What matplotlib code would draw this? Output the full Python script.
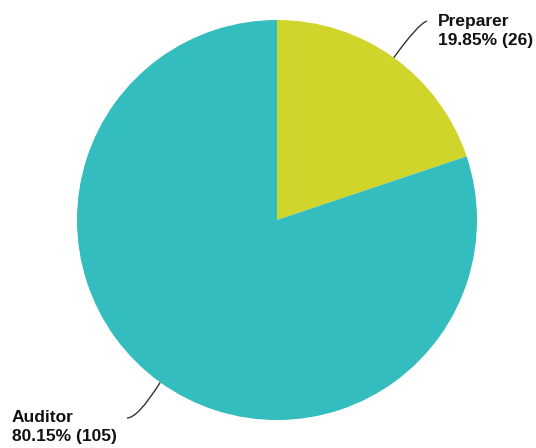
import numpy as np
import matplotlib.pyplot as plt
from matplotlib.path import Path
from matplotlib.patches import PathPatch

# Data
labels = ["Preparer", "Auditor"]
counts = [26, 105]
colors = ["#D0D52B", "#33BDBF"]

W, H = 536, 448
fig = plt.figure(figsize=(W / 100, H / 100), dpi=100)
ax = fig.add_axes([0, 0, 1, 1])

cx, cy, r = 277, H - 220, 200
wedges, _ = ax.pie(counts, colors=colors, startangle=90, counterclock=False,
                   center=(cx, cy), radius=r, frame=True,
                   wedgeprops=dict(linewidth=0))
ax.set_xlim(0, W)
ax.set_ylim(0, H)
ax.set_aspect('equal')
ax.axis('off')

total = sum(counts)
# label anchor (text left/top in pixels) and leader control points
label_pos = [(438, 14), (12, 410)]
ctrl = [((418, 24), (427, 21)), ((138, 418), (127, 418))]

for w, lab, n, (tx, ty), (c1, c2) in zip(wedges, labels, counts, label_pos, ctrl):
    mid = np.radians((w.theta1 + w.theta2) / 2)
    p0 = (cx + r * np.cos(mid), cy + r * np.sin(mid))
    p1 = (c1[0], H - c1[1])
    p2 = (c2[0], H - c2[1])
    path = Path([p0, p1, p2], [Path.MOVETO, Path.CURVE3, Path.CURVE3])
    ax.add_patch(PathPatch(path, fill=False, edgecolor="#333333", lw=1))
    ax.text(tx, H - ty, f"{lab}\n{100 * n / total:.2f}% ({n})",
            ha="left", va="top", fontsize=12.5, fontweight="bold",
            family="Liberation Sans", color="#111111", linespacing=1.3)

fig.savefig("out.png", dpi=100)
